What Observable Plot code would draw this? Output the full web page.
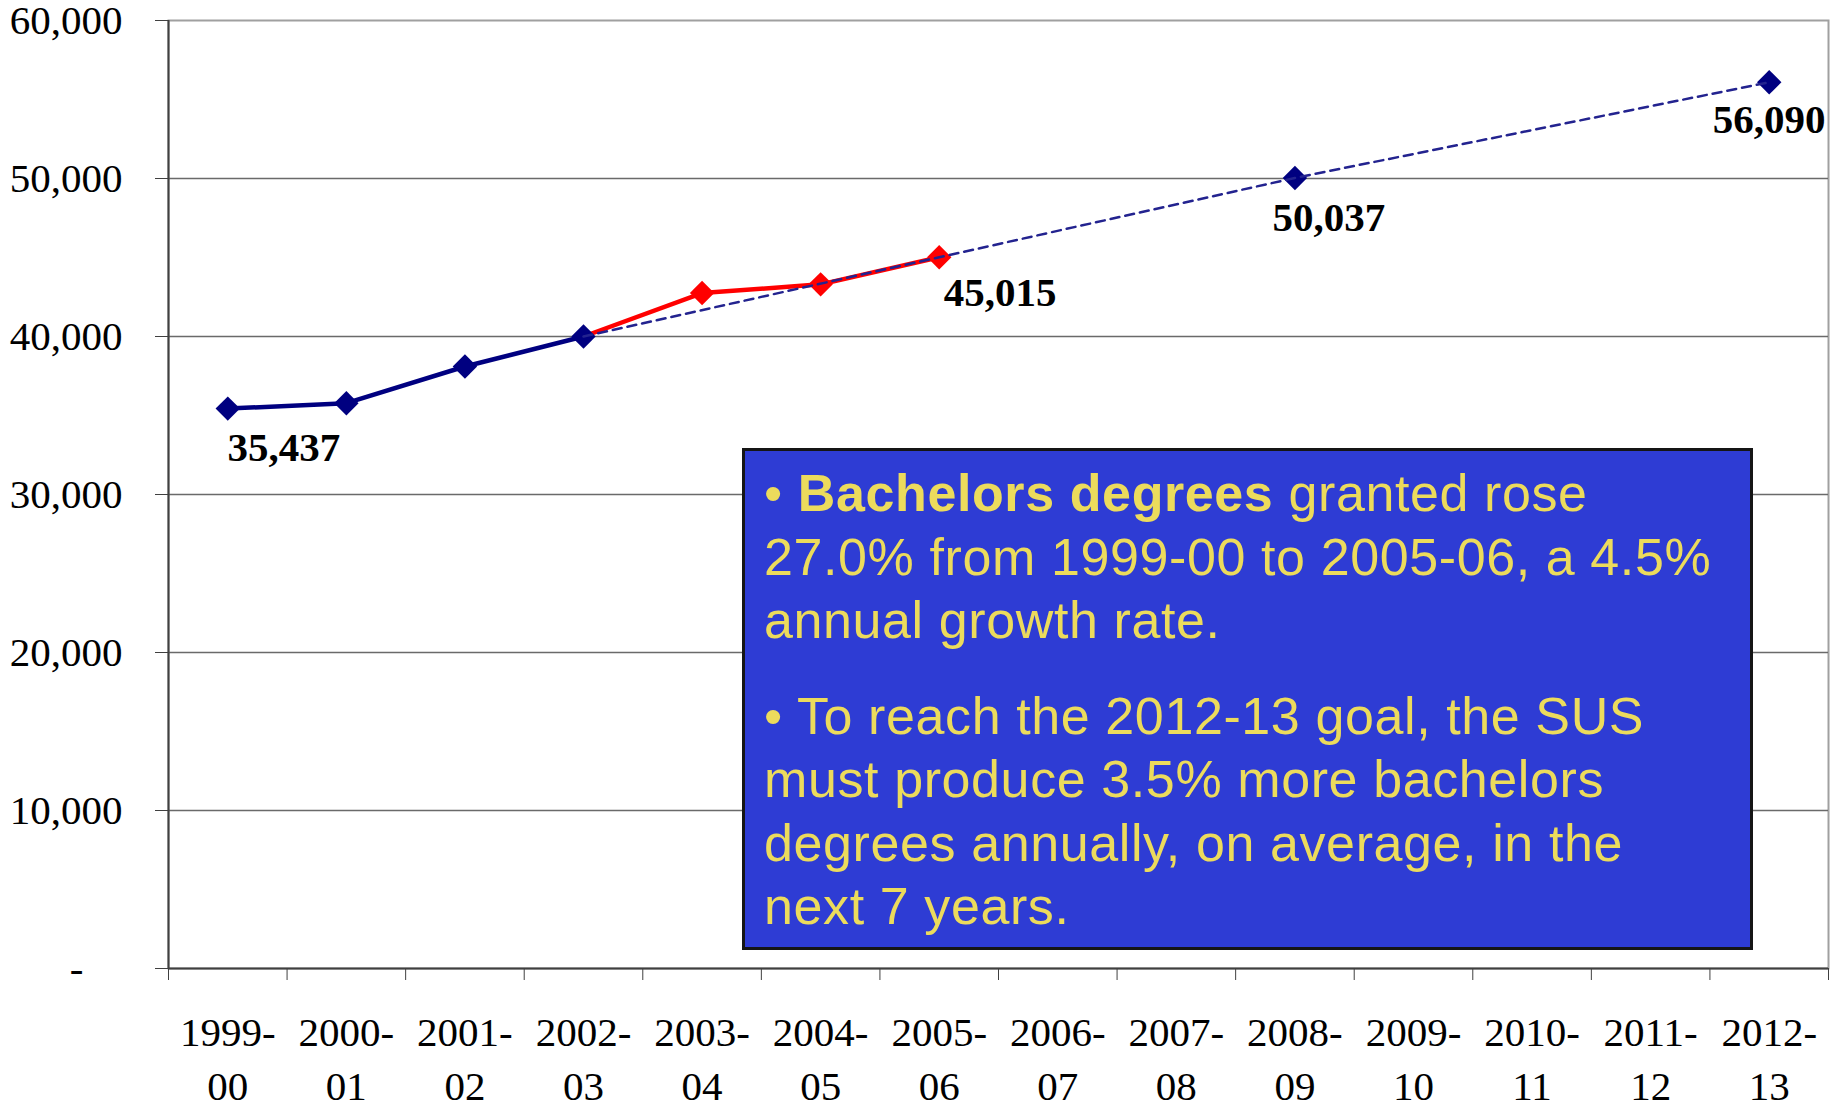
<!DOCTYPE html>
<html><head><meta charset="utf-8">
<script src="https://cdn.jsdelivr.net/npm/d3@7"></script>
<script src="https://cdn.jsdelivr.net/npm/@observablehq/plot@0.6"></script>
<style>
html,body{margin:0;padding:0;background:#fff;}
#wrap{position:relative;width:1835px;height:1107px;overflow:hidden;background:#fff;}
#note{position:absolute;left:742px;top:448px;width:1011px;height:502px;box-sizing:border-box;
  border:3px solid #151515;background:#2E3CD4;color:#ECDB5C;font-family:"Liberation Sans",Arial,sans-serif;
  font-size:52px;line-height:63.5px;letter-spacing:0.6px;padding:11px 0 0 19px;white-space:nowrap;}
#note p{margin:0;}
#note p + p{margin-top:32px;}
</style></head>
<body><div id="wrap"><div id="chart"></div>
<div id="note">
<p>• <b>Bachelors degrees</b> granted rose<br>27.0% from 1999-00 to 2005-06, a 4.5%<br>annual growth rate.</p>
<p>• To reach the 2012-13 goal, the SUS<br>must produce 3.5% more bachelors<br>degrees annually, on average, in the<br>next 7 years.</p>
</div></div>
<script>
const years = ["1999-00","2000-01","2001-02","2002-03","2003-04","2004-05","2005-06","2006-07","2007-08","2008-09","2009-10","2010-11","2011-12","2012-13"];
const actualYears = ["1999-00","2000-01","2001-02","2002-03"];
const actualValues = [35437, 35780, 38100, 40000];
const recentYears = ["2002-03","2003-04","2004-05","2005-06"];
const recentValues = [40000, 42750, 43300, 45015];
const goalYears = ["2002-03","2005-06","2008-09","2012-13"];
const goalValues = [40000, 45015, 50037, 56090];
const yTicks = [0, 10000, 20000, 30000, 40000, 50000, 60000];

const idx = y => years.indexOf(y);
const rows = (ys, vs) => ys.map((y, i) => ({x: idx(y), v: vs[i]}));
const actual = rows(actualYears, actualValues);
const recent = rows(recentYears, recentValues);
const goal = rows(goalYears, goalValues);
const goalMarkers = goal.slice(2);
const xDomain = [-0.5, years.length - 0.5];
const boundaries = d3.range(years.length + 1).map(i => i - 0.5);
const fmt = d3.format(",");
const navy = "#000080", red = "#FF0000", axisGray = "#404040";

const chart = Plot.plot({
  width: 1835, height: 1107,
  marginLeft: 168, marginRight: 7, marginTop: 20, marginBottom: 139,
  style: {fontFamily: "'Liberation Serif', 'Times New Roman', serif", fontSize: "41px", color: "#000", background: "#fff"},
  x: {type: "linear", domain: xDomain, label: null},
  y: {domain: [0, 60000], label: null},
  marks: [
    Plot.frame({stroke: "#a0a0a0", strokeWidth: 2}),
    Plot.ruleY(yTicks.filter(d => d > 0 && d < 60000), {stroke: "#6a6a6a", strokeWidth: 1.5}),
    Plot.ruleY([0], {stroke: axisGray, strokeWidth: 2}),
    Plot.ruleX([xDomain[0]], {stroke: axisGray, strokeWidth: 2}),
    Plot.axisY(yTicks.filter(d => d > 0), {label: null, tickSize: 13, tickPadding: 33, tickFormat: fmt, fontSize: 41, stroke: axisGray, fill: "#000"}),
    Plot.axisY([0], {label: null, tickSize: 13, tickPadding: 72, tickFormat: () => "-", fontSize: 41, stroke: axisGray, fill: "#000"}),
    Plot.axisX(boundaries, {label: null, tickSize: 12, stroke: axisGray, fill: "none"}),
    Plot.axisX(d3.range(years.length), {label: null, tickSize: 0, tickPadding: 40, fontSize: 41, lineHeight: 1.3, fill: "#000",
      tickFormat: i => years[i].replace("-", "-\n")}),
    Plot.line(recent, {x: "x", y: "v", stroke: red, strokeWidth: 4.5}),
    Plot.line(actual, {x: "x", y: "v", stroke: navy, strokeWidth: 4.5}),
    Plot.dot(actual, {x: "x", y: "v", symbol: "diamond2", r: 11, fill: navy}),
    Plot.dot(recent.slice(1), {x: "x", y: "v", symbol: "diamond2", r: 11, fill: red}),
    Plot.dot(goalMarkers, {x: "x", y: "v", symbol: "diamond2", r: 11, fill: navy}),
    Plot.line(goal, {x: "x", y: "v", stroke: "#23238f", strokeWidth: 2.5, strokeDasharray: "9,6"}),
    Plot.text([actual[0]], {x: "x", y: "v", text: d => fmt(d.v), dx: 56, dy: 39.5, fontWeight: "bold", fontSize: 41}),
    Plot.text([recent[3]], {x: "x", y: "v", text: d => fmt(d.v), dx: 61, dy: 36, fontWeight: "bold", fontSize: 41}),
    Plot.text([goal[2]], {x: "x", y: "v", text: d => fmt(d.v), dx: 34, dy: 39.5, fontWeight: "bold", fontSize: 41}),
    Plot.text([goal[3]], {x: "x", y: "v", text: d => fmt(d.v), dx: 0, dy: 38, fontWeight: "bold", fontSize: 41})
  ]
});
document.getElementById("chart").appendChild(chart);
</script>
</body></html>
